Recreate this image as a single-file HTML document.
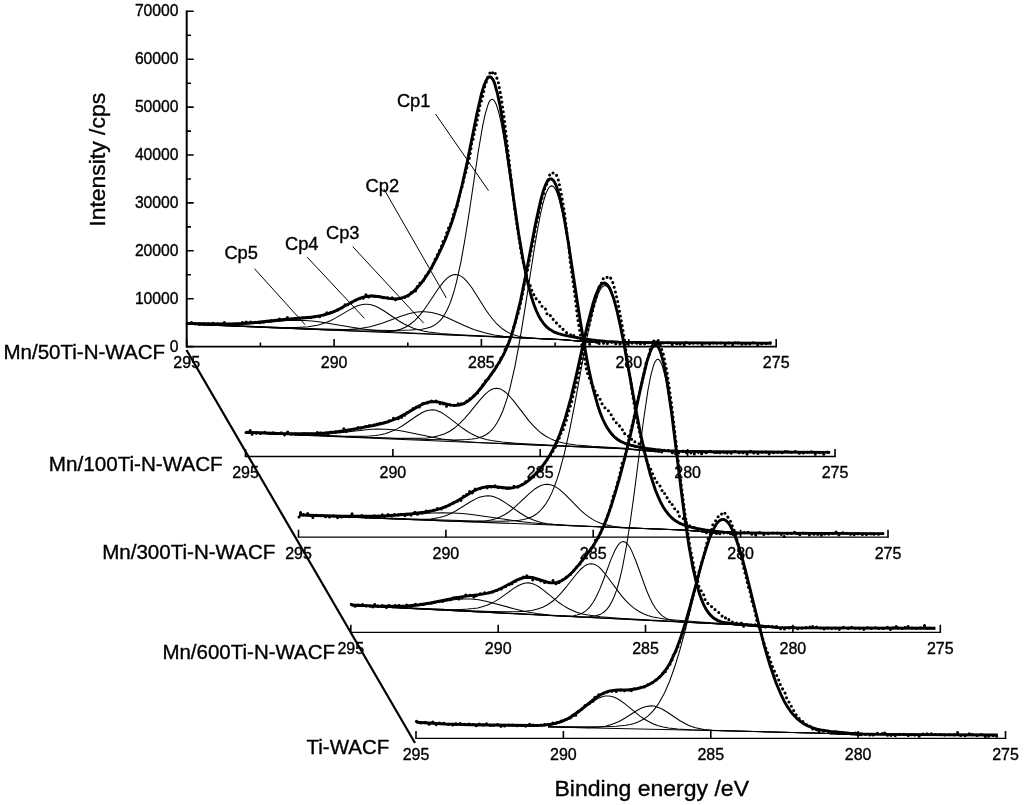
<!DOCTYPE html><html><head><meta charset="utf-8"><style>html,body{margin:0;padding:0;background:#fff;width:1024px;height:805px;overflow:hidden}svg{display:block}</style></head><body><svg width="1024" height="805" viewBox="0 0 1024 805" style="will-change:transform">
<style>
.c{fill:none;stroke:#000;stroke-width:1.05}
.e{fill:none;stroke:#000;stroke-width:2.9;stroke-linejoin:round}
.d{fill:none;stroke:#000;stroke-width:3.1;stroke-linecap:round;stroke-dasharray:0 4.9}
.ax{stroke:#000;stroke-width:1.6;fill:none}
.tk{stroke:#000;stroke-width:1.6;fill:none}
text{font-family:"Liberation Sans",sans-serif;fill:#000;stroke:#000;stroke-width:0.35}
.tl{font-size:16px;text-anchor:middle}
.yl{font-size:15.7px;text-anchor:end}
.lb{font-size:20px}
.cp{font-size:18.3px}
.ti{font-size:22px}
.ld{stroke:#000;stroke-width:1}
</style>
<rect width="1024" height="805" fill="#fff"/>
<path class="c" d="M187.2 324.0 324.2 329.0 363.2 330.1 391.4 330.4 410.2 330.1 421.9 329.2 426.4 328.3 430.2 327.2 433.4 325.8 436.4 323.9 439.4 321.3 442.2 318.1 444.9 314.0 447.4 309.3 449.7 304.1 451.9 298.0 454.2 290.7 456.4 282.3 460.7 263.1 464.9 239.7 468.9 214.5 478.2 152.0 482.7 125.7 485.2 114.1 487.7 105.6 488.9 102.6 489.9 100.9 491.2 99.6 492.2 99.3 493.2 99.6 494.2 100.5 496.2 104.3 498.4 111.2 500.7 120.7 502.9 132.4 505.4 147.4 517.0 225.3 523.0 261.0 526.5 278.2 529.7 291.5 533.2 303.1 536.7 312.1 540.5 319.4 544.5 324.9 546.7 327.3 549.0 329.2 551.5 330.8 554.2 332.3 560.2 334.4 570.5 336.7 586.0 339.3 600.0 341.1"/>
<path class="c" d="M187.2 324.2 368.9 331.6 384.7 331.8 390.2 331.4 394.9 330.7 400.4 329.3 405.4 327.3 409.9 324.5 414.4 320.9 418.9 316.3 423.4 310.7 427.9 304.3 438.4 288.5 443.9 281.4 447.2 278.1 450.2 276.0 453.2 274.8 455.9 274.5 458.4 275.0 460.9 276.1 463.7 278.1 466.4 280.8 469.2 284.2 472.2 288.3 485.9 310.0 489.4 315.0 492.9 319.5 496.9 324.0 500.9 327.7 505.2 330.8 509.4 333.1 513.5 334.7 517.7 336.0 522.5 337.0 528.2 337.8 539.2 338.6 565.7 339.9 600.0 343.0"/>
<path class="c" d="M187.2 324.2 317.7 329.5 335.7 329.9 348.7 329.6 359.9 328.6 370.2 326.7 381.4 323.5 400.9 316.2 408.7 313.8 412.9 312.8 417.2 312.1 421.2 311.8 424.9 311.8 431.9 312.6 439.2 314.6 446.9 317.6 464.7 325.7 473.7 329.4 483.7 332.6 494.2 334.9 503.4 336.3 514.5 337.3 530.2 338.3 564.2 339.8 600.0 343.0"/>
<path class="c" d="M187.2 324.0 280.2 327.4 296.7 327.5 308.2 326.8 317.4 325.2 321.7 324.1 325.9 322.6 330.4 320.7 334.9 318.4 349.9 309.6 355.4 306.8 358.4 305.6 361.4 304.7 364.4 304.2 367.2 304.2 369.9 304.5 372.7 305.2 375.7 306.3 378.7 307.7 384.2 311.0 399.4 321.2 404.2 324.0 408.9 326.3 413.4 328.2 418.2 329.8 423.2 331.1 428.7 332.1 440.7 333.6 458.4 334.8 563.5 339.7 600.0 342.9"/>
<path class="c" d="M187.2 323.8 214.9 324.5 235.7 324.4 253.7 323.4 287.7 320.6 296.2 320.3 304.2 320.4 311.9 321.0 320.4 322.0 350.2 327.0 363.4 329.0 375.7 330.4 389.2 331.6 406.9 332.8 431.7 334.0 562.0 339.6 600.0 342.9"/>
<path class="c" d="M187.2 324.2 560.7 339.6 600.0 343.0"/>
<path class="e" d="M187.2 323.4 218.4 324.0 230.7 323.9 241.9 323.5 257.7 322.3 286.7 319.3 308.4 317.5 315.4 316.7 324.4 314.9 332.7 312.2 340.2 308.6 355.9 300.0 360.2 298.1 364.2 296.9 368.7 296.1 373.4 296.0 377.9 296.5 390.4 298.6 394.2 298.9 397.7 298.8 401.7 298.0 405.4 296.7 409.2 294.7 412.7 292.2 417.2 287.9 421.7 282.6 426.4 275.9 431.4 267.7 436.7 258.0 441.7 247.6 446.2 237.3 450.2 226.8 453.2 218.0 456.2 208.2 461.9 186.0 467.2 162.1 477.2 112.3 481.4 94.0 483.7 86.4 485.9 80.8 487.9 77.8 488.9 77.0 489.9 76.8 491.2 77.3 492.4 78.8 493.7 81.1 494.9 84.3 497.4 93.3 500.2 106.6 504.9 136.3 514.5 205.3 518.7 234.2 523.0 259.5 527.2 280.5 529.5 289.8 531.7 297.8 534.0 304.7 536.2 310.5 538.7 315.9 541.2 320.2 544.0 324.0 546.7 327.0 550.0 329.6 553.7 331.8 557.7 333.4 563.0 334.9 572.7 336.9 585.5 339.1 596.2 340.5 606.5 341.5 619.5 342.1 656.5 342.6 771.5 343.2"/>
<path class="d" d="M187.2 323.8 188.7 324.3 189.9 323.9 191.7 322.4 193.2 324.5 194.4 324.1 195.9 323.2 197.7 324.3 201.9 323.9 203.4 324.4 204.9 323.2 206.4 323.7 207.9 323.5 209.4 324.5 213.7 323.2 216.7 324.0 218.2 323.8 219.7 325.3 221.2 324.8 222.7 321.4 223.9 322.0 225.4 323.7 226.9 323.5 228.4 324.1 229.9 324.1 231.4 325.9 232.9 322.7 234.4 323.5 235.9 325.7 237.2 324.4 238.9 324.1 241.7 321.8 243.2 323.5 244.7 323.4 246.2 322.0 248.9 322.9 250.4 322.0 252.2 322.7 253.4 322.8 254.9 322.6 256.4 321.9 257.9 322.9 259.4 323.0 262.4 321.1 263.7 322.3 265.2 321.2 266.7 322.2 268.2 320.3 269.7 321.9 272.7 319.5 274.2 320.3 276.9 320.5 278.7 319.1 279.9 318.9 281.4 319.9 282.9 319.2 285.9 320.1 287.4 317.6 288.9 319.3 290.4 320.1 291.9 318.4 293.2 317.9 294.7 319.2 296.2 318.7 297.7 319.2 300.7 316.6 302.2 317.9 303.7 317.5 305.2 318.5 306.7 317.7 308.2 315.9 309.4 316.2 311.2 318.1 312.4 317.8 313.9 316.3 316.9 316.9 319.7 316.8 324.2 314.7 325.7 315.6 327.2 312.0 328.7 313.5 330.2 313.1 331.7 311.2 333.2 312.2 334.7 310.8 335.9 311.5 337.7 309.9 340.4 309.7 344.9 304.6 346.4 306.9 347.9 304.2 349.2 303.0 350.7 302.9 352.2 301.8 353.7 301.9 355.2 300.4 356.7 299.7 358.2 298.3 359.7 298.8 361.2 296.8 362.7 298.0 363.9 298.4 365.4 295.3 366.9 293.9 368.4 296.6 369.9 298.5 371.4 295.0 372.9 294.8 374.4 296.6 375.9 295.4 378.7 296.3 380.2 297.4 381.7 296.8 383.2 297.7 386.2 297.2 387.7 297.9 389.2 297.6 390.7 298.6 392.2 297.7 393.4 297.8 394.9 300.2 396.7 298.8 397.9 298.7 399.4 299.0 400.9 297.8 403.9 297.7 405.4 296.9 406.9 295.0 408.2 296.0 409.9 293.6 412.7 291.2 414.2 290.5 415.7 291.0 417.2 286.7 418.7 286.2 420.2 282.4 421.4 282.6 422.9 281.6 425.9 275.7 428.7 272.4 430.4 269.4 431.9 267.9 434.7 260.1 438.9 251.8 442.2 244.5 443.7 239.1 445.2 237.9 447.9 229.1 449.7 226.3 450.9 223.5 455.4 208.3 456.9 207.5 459.9 193.5 462.7 184.7 464.2 177.4 465.7 172.8 467.2 166.0 468.7 161.0 470.2 154.0 471.7 143.4 473.2 138.9 474.7 130.2 476.2 125.5 480.4 103.4 481.9 99.5 483.4 93.7 484.9 85.1 486.4 81.7 487.9 76.7 490.7 71.5 490.9 71.4 492.2 73.3 493.7 71.1 494.4 71.9 495.4 73.8 498.2 81.7 501.2 97.4 504.2 118.1 513.0 194.9 516.2 219.9 521.7 255.7 526.2 275.5 528.2 281.9 529.2 284.1 530.7 286.4 532.2 292.0 533.7 294.6 535.0 295.3 536.5 299.6 538.0 300.4 539.5 301.9 541.0 305.0 544.0 308.7 545.5 308.9 547.0 313.8 548.5 313.2 549.7 313.9 551.2 317.7 552.7 318.6 554.2 321.0 555.7 322.0 558.7 325.8 560.2 326.5 561.7 329.2 563.0 329.3 564.5 330.2 567.5 333.8 570.5 334.5 572.0 336.7 573.5 335.2 576.2 338.2 578.0 337.7 579.2 339.3 580.7 339.7 582.2 341.1 583.7 339.6 585.2 340.3 586.7 341.4 588.2 339.3 589.7 344.5 591.2 341.2 592.5 341.3 594.2 343.0 595.5 342.4 597.0 340.8 598.5 343.3 599.7 343.6 601.5 342.4 604.5 343.5 605.7 342.3 607.2 343.6 608.7 343.5 611.7 342.0 613.2 343.2 614.7 342.6 616.2 344.4 617.7 343.6 619.2 344.2 620.5 343.7 622.0 343.7 623.5 342.7 626.5 345.3 628.0 343.2 629.2 342.9 631.0 343.3 633.7 342.8 635.5 343.6 636.7 343.2 638.2 344.9 639.7 343.5 642.7 344.4 644.2 343.3 645.7 344.8 647.2 342.8 648.7 342.7 651.5 343.4 653.0 342.1 654.5 343.5 656.0 341.9 657.5 344.8 659.0 343.4 660.5 342.8 662.0 342.6 664.7 343.3 666.5 342.5 667.7 342.6 669.2 343.3 670.7 343.0 672.2 344.5 673.5 344.6 675.2 343.6 676.7 343.8 678.0 342.3 679.5 344.1 681.2 343.6 682.5 344.0 684.0 345.1 685.5 341.3 687.0 343.7 688.5 342.5 690.0 344.0 691.5 342.3 694.2 343.7 695.7 344.1 698.7 342.7 700.0 342.9 701.7 344.4 703.2 343.4 704.5 342.0 706.2 344.3 707.5 344.0 709.0 344.4 710.5 343.2 712.0 344.3 713.5 342.5 715.0 344.1 716.5 343.1 718.0 344.2 719.2 344.5 721.0 342.9 722.2 343.5 723.7 343.6 725.2 344.7 726.7 344.2 728.2 342.4 729.7 344.0 731.2 344.4 732.5 345.5 734.2 342.0 735.5 342.9 737.0 344.8 738.7 342.2 740.0 342.3 741.5 344.1 742.7 344.5 744.5 342.9 746.0 344.1 747.5 343.8 748.7 345.0 750.2 343.6 751.7 344.5 753.2 342.7 754.7 343.4 756.2 343.5 757.7 344.7 759.2 344.0 760.5 342.9 762.0 344.1 763.5 344.3 765.2 343.4 768.0 343.4 769.5 341.9 771.0 343.7 771.5 343.8"/>
<path class="c" d="M246.0 432.7 388.2 438.2 428.5 439.4 454.8 439.9 467.5 439.5 472.2 439.1 476.2 438.4 479.8 437.5 483.0 436.3 486.0 434.7 488.8 432.8 491.8 430.0 494.8 426.3 497.5 422.1 500.2 416.8 502.8 411.0 505.2 404.1 507.8 396.1 510.0 387.9 514.8 367.1 519.5 341.9 524.0 314.8 534.8 245.7 537.8 228.2 540.2 215.3 543.2 202.3 546.2 192.8 547.8 189.5 549.0 187.5 550.5 186.2 551.8 185.9 553.0 186.3 554.2 187.5 555.5 189.5 556.8 192.2 559.5 200.6 562.2 211.9 564.8 224.4 567.8 241.5 580.8 325.6 587.2 363.0 591.0 381.2 594.5 395.6 598.0 407.5 601.8 417.9 605.8 426.3 610.0 433.0 612.2 435.7 614.5 437.9 617.0 439.9 619.8 441.7 622.8 443.2 626.2 444.6 634.5 446.9 646.5 449.1 660.0 450.7"/>
<path class="c" d="M246.0 432.7 342.0 436.5 395.5 438.2 419.2 438.3 427.0 437.9 433.5 437.0 439.5 435.6 444.8 433.7 449.8 431.2 454.8 427.8 459.5 423.7 464.5 418.6 469.2 413.1 480.0 399.8 485.5 393.9 488.5 391.4 491.5 389.6 494.2 388.6 497.0 388.3 499.8 388.8 502.5 390.1 505.5 392.2 508.5 395.0 514.0 401.4 528.8 420.6 533.2 425.7 537.5 429.9 541.5 433.3 545.5 436.0 549.8 438.4 554.0 440.3 558.5 441.8 563.5 443.1 569.2 444.1 576.0 445.0 592.0 446.3 625.0 448.2 660.0 451.7"/>
<path class="c" d="M246.0 432.7 308.0 435.1 345.0 436.2 363.2 436.3 369.8 436.0 375.5 435.5 380.5 434.7 385.0 433.7 389.2 432.3 393.5 430.6 398.0 428.4 402.5 425.8 417.0 415.7 422.0 412.7 424.8 411.3 427.5 410.4 430.2 409.9 432.8 409.8 435.2 410.1 437.8 410.9 440.5 412.0 443.2 413.6 448.2 417.1 462.8 428.3 467.5 431.5 472.0 434.1 476.5 436.2 481.2 438.0 486.2 439.5 491.5 440.6 501.8 442.1 515.8 443.2 552.5 445.3 622.5 448.5 660.0 452.0"/>
<path class="c" d="M246.0 432.9 290.2 434.5 303.2 434.7 314.5 434.6 324.2 434.2 333.8 433.5 368.5 429.5 377.0 429.1 385.0 429.2 393.2 429.8 402.0 431.1 430.2 436.8 442.0 438.9 452.5 440.3 464.0 441.4 477.8 442.4 496.5 443.3 622.0 448.7 660.0 452.1"/>
<path class="c" d="M246.0 432.9 620.8 448.6 629.5 449.2 660.0 452.1"/>
<path class="e" d="M246.0 432.3 284.2 433.6 306.2 433.8 315.8 433.5 324.8 432.9 333.5 432.1 342.5 430.9 356.5 428.6 373.2 425.5 382.0 423.5 389.0 421.5 394.2 419.5 399.5 417.1 405.5 413.9 419.8 405.5 424.0 403.6 428.0 402.3 432.0 401.6 436.0 401.8 440.0 402.4 450.5 405.1 453.8 405.4 456.8 405.4 460.2 404.8 463.8 403.6 467.0 401.8 470.5 399.2 475.5 394.4 481.0 388.0 488.5 378.2 495.8 367.8 500.0 361.0 503.5 354.6 506.8 347.7 509.8 340.0 512.5 331.9 515.2 322.4 520.5 300.9 525.2 277.7 535.8 222.3 540.8 199.8 543.5 190.2 546.0 183.8 547.2 181.5 548.5 179.9 549.8 179.0 550.8 178.8 552.0 179.2 553.5 180.6 555.0 183.0 556.5 186.5 559.5 196.2 562.8 210.6 565.2 223.9 568.2 241.8 579.2 314.2 583.8 342.0 588.5 367.9 593.0 388.3 597.8 405.5 600.0 412.2 602.5 418.5 605.0 423.8 607.8 428.7 610.8 432.9 613.8 436.3 617.2 439.2 621.0 441.5 625.5 443.5 630.8 445.2 637.8 446.9 646.5 448.5 656.2 449.8 665.8 450.7 678.8 451.3 713.2 451.8 830.2 452.4"/>
<path class="d" d="M246.0 432.5 247.5 431.9 249.0 432.0 250.5 430.3 252.0 434.3 253.2 433.8 254.8 432.4 256.5 433.4 259.2 432.3 260.8 433.8 262.2 432.6 265.0 432.3 266.8 433.5 268.0 433.1 269.5 433.7 271.0 432.6 272.5 433.4 274.0 432.4 275.5 434.2 277.0 433.6 279.8 433.9 281.2 432.6 284.2 435.6 285.8 432.1 287.2 431.9 288.8 432.2 290.2 434.5 291.8 433.9 293.2 434.8 296.0 434.0 297.5 434.1 299.0 433.6 300.5 434.6 302.0 432.7 305.0 434.1 306.5 435.4 308.0 432.9 309.2 432.6 310.8 433.1 312.2 434.5 313.8 433.4 315.2 434.8 316.8 431.6 318.2 434.5 319.8 434.2 321.2 431.8 324.0 434.1 325.8 433.0 328.5 434.9 330.0 432.7 333.0 431.4 334.5 432.6 336.0 431.6 338.8 431.3 340.2 431.8 341.8 430.0 344.8 428.1 346.2 431.5 347.8 430.2 349.2 431.3 350.8 429.5 352.0 428.7 353.8 429.5 356.8 427.3 358.0 427.4 359.5 429.8 361.0 428.1 362.5 427.9 365.2 426.4 367.0 427.5 369.8 425.4 371.2 425.7 372.8 424.7 375.8 426.0 377.2 423.9 378.8 425.6 380.2 423.3 381.5 423.7 383.0 422.5 386.0 422.4 389.0 420.8 391.8 419.7 393.5 418.3 395.0 419.0 396.5 419.0 397.8 418.9 399.2 417.9 400.8 418.9 402.2 416.0 403.8 414.5 405.2 415.8 406.8 412.3 408.0 413.2 409.5 410.8 409.8 410.6 411.0 410.9 412.5 407.9 414.0 409.7 417.0 406.1 418.5 407.9 422.8 403.4 424.2 403.4 425.8 402.7 427.2 403.1 428.8 402.9 430.2 401.2 433.2 401.0 434.8 400.3 440.5 403.9 442.0 402.2 443.5 403.9 445.0 403.3 446.5 406.2 448.0 404.5 449.5 405.3 451.0 404.2 452.2 404.5 453.8 405.6 455.2 405.1 456.8 405.8 458.2 403.7 459.8 405.6 461.2 403.7 462.8 405.6 464.2 403.1 465.5 403.7 467.0 400.5 467.2 400.4 468.5 401.1 470.0 398.7 473.0 397.0 474.5 395.2 477.5 393.0 479.0 391.1 481.8 385.8 484.8 383.0 486.2 379.1 487.8 379.9 489.2 376.9 490.5 375.1 492.2 373.8 495.0 369.1 496.5 365.6 498.0 364.4 499.5 361.9 501.0 358.1 502.5 357.2 504.0 353.6 505.5 348.2 506.8 347.1 508.2 342.4 510.0 340.1 511.2 336.3 512.8 330.0 518.8 311.1 523.0 291.7 524.5 282.2 527.5 270.2 530.5 253.3 533.5 240.3 536.2 223.6 538.0 217.3 539.2 208.7 540.8 204.3 542.2 197.2 543.8 193.1 545.2 186.4 546.8 184.1 549.8 174.6 551.2 172.5 552.8 172.9 554.0 173.9 555.5 173.6 556.8 175.7 558.5 180.4 561.5 194.9 564.5 212.9 567.2 236.0 568.8 245.7 570.2 261.6 574.8 294.4 577.5 317.5 580.5 335.1 582.0 346.6 585.0 360.3 586.5 370.1 588.0 375.0 591.0 381.9 592.2 386.2 592.5 386.7 593.8 387.1 595.5 392.8 599.8 398.4 601.2 402.7 604.0 406.2 605.8 409.2 607.2 409.6 610.0 412.3 613.0 418.8 614.5 419.9 616.0 422.7 617.5 422.8 619.0 425.4 621.8 428.1 623.5 433.1 624.8 433.7 626.2 433.7 627.8 435.2 629.2 437.4 630.8 437.5 632.2 440.5 633.8 440.2 635.0 441.9 636.5 442.4 638.0 443.8 639.5 443.9 641.0 444.5 642.5 445.8 647.0 448.7 648.5 450.5 651.2 449.6 652.8 450.8 654.2 449.8 655.8 452.1 657.2 451.5 658.8 449.8 660.2 452.1 661.5 452.3 663.2 449.1 664.8 451.0 666.0 451.4 667.5 450.1 669.0 451.0 670.5 451.2 672.0 452.7 673.5 452.6 675.0 454.8 676.5 452.0 678.0 453.4 679.2 452.5 680.8 452.6 682.2 451.3 683.8 450.5 686.8 453.2 688.2 454.0 689.8 453.0 691.2 452.8 692.5 451.7 694.2 453.9 695.5 453.8 697.0 452.0 698.5 452.4 700.0 451.5 701.5 453.9 703.0 452.8 704.2 452.4 707.2 452.9 710.2 451.3 713.2 450.7 716.2 454.6 717.8 450.9 719.2 452.7 720.5 452.9 722.0 451.6 723.5 452.7 725.0 451.5 726.5 453.7 728.0 451.9 731.0 453.2 734.0 450.8 736.8 453.2 738.2 452.5 739.8 452.8 741.2 451.5 742.8 452.7 744.2 453.3 745.8 452.7 747.2 454.3 748.8 452.3 751.5 451.0 753.0 453.6 754.5 452.5 756.0 453.6 757.5 453.1 759.0 454.2 760.5 453.8 762.0 452.3 764.8 453.6 766.2 451.5 768.0 454.0 770.8 453.6 772.2 452.4 773.8 452.8 775.2 451.6 776.8 452.6 778.0 452.1 779.5 452.7 781.0 452.1 784.0 453.8 785.5 451.3 787.0 453.5 788.5 450.6 789.8 450.5 791.5 452.5 794.2 453.0 795.8 451.1 797.2 452.5 798.8 452.8 800.2 453.9 801.8 452.6 803.2 453.1 804.8 451.7 806.0 452.4 807.5 452.2 809.0 453.3 810.5 451.7 812.0 451.8 815.0 454.4 816.5 453.0 818.0 452.9 819.2 452.4 820.8 453.6 822.2 453.2 823.8 454.3 826.8 451.7 828.2 452.1 830.2 451.6"/>
<path class="c" d="M299.0 515.0 436.0 519.8 476.2 520.9 501.5 521.2 514.5 520.7 519.2 520.3 523.5 519.6 527.2 518.6 530.8 517.3 533.8 515.8 536.8 513.8 540.0 511.0 543.2 507.4 546.2 503.2 549.0 498.5 551.8 492.9 554.2 487.0 557.0 479.4 559.5 471.5 564.5 452.8 569.8 429.3 574.8 403.8 586.2 341.5 589.5 325.5 592.2 313.4 595.5 301.5 598.8 292.6 600.5 289.2 602.0 287.2 603.5 286.0 605.0 285.6 606.2 285.9 607.8 287.1 609.2 289.1 610.8 291.9 613.8 299.8 616.8 310.4 619.5 322.1 622.8 337.8 637.0 415.5 643.8 448.4 647.8 465.0 651.5 478.3 655.5 490.2 659.5 499.8 663.8 507.8 668.2 514.1 670.8 516.8 673.2 519.1 676.0 521.1 678.8 522.8 682.0 524.3 685.8 525.7 694.5 528.1 706.5 530.2 720.0 531.8"/>
<path class="c" d="M299.0 515.2 459.5 521.4 475.0 521.6 485.5 520.9 490.8 520.0 495.8 518.7 500.5 516.8 505.0 514.5 509.5 511.5 514.0 507.9 529.5 493.4 535.2 488.7 538.5 486.7 541.5 485.3 544.5 484.6 547.5 484.4 550.5 484.8 553.5 485.8 556.8 487.6 560.0 489.9 565.8 495.1 580.5 510.1 584.8 513.9 588.8 516.9 592.5 519.4 596.2 521.4 600.2 523.1 604.5 524.5 613.0 526.3 623.8 527.5 638.5 528.3 683.8 530.1 720.0 533.3"/>
<path class="c" d="M299.0 515.2 407.0 519.3 420.8 519.5 430.8 519.0 439.5 517.5 443.5 516.4 447.5 515.0 451.8 513.1 456.0 510.8 470.5 501.7 476.2 498.6 479.5 497.2 482.5 496.4 485.5 495.9 488.2 495.8 491.0 496.1 494.0 496.8 497.0 497.9 500.2 499.5 506.0 503.1 520.5 513.3 525.0 516.0 529.2 518.2 533.5 520.1 537.8 521.5 542.2 522.7 547.2 523.7 557.0 524.8 570.8 525.7 682.8 530.1 720.0 533.3"/>
<path class="c" d="M299.0 515.2 341.5 516.6 368.5 516.8 390.5 515.9 432.2 513.0 443.0 512.7 453.2 512.9 462.2 513.5 471.8 514.5 517.8 521.2 531.2 522.8 545.5 524.0 582.0 526.1 682.2 530.1 720.0 533.3"/>
<path class="c" d="M299.0 515.2 680.8 530.0 689.5 530.6 720.0 533.3"/>
<path class="e" d="M299.0 515.0 342.8 516.3 370.5 516.3 384.0 515.9 397.5 515.0 412.0 513.7 423.8 512.2 430.5 511.1 436.2 509.8 441.8 508.1 446.8 506.2 455.5 501.9 473.2 491.3 477.5 489.2 481.5 487.8 486.0 486.8 490.8 486.4 495.2 486.7 506.8 488.0 510.2 488.0 513.2 487.7 517.0 486.9 520.5 485.6 524.0 483.7 527.8 481.1 532.2 477.3 537.0 472.5 541.8 466.9 546.0 461.2 549.8 455.3 553.2 449.0 556.5 442.2 559.8 434.4 565.2 418.4 571.0 397.6 576.2 375.6 587.2 325.8 592.8 304.3 595.8 295.0 598.8 288.2 600.2 285.8 601.5 284.3 603.0 283.3 604.2 283.0 605.8 283.5 607.2 284.7 608.8 286.7 610.5 290.0 613.8 298.8 617.2 311.7 620.2 325.1 623.5 341.4 635.2 406.1 640.2 432.0 645.2 454.9 650.2 474.1 655.2 489.5 657.8 495.9 660.5 501.9 663.2 507.0 666.0 511.2 669.0 515.0 672.0 518.0 675.5 520.8 679.5 523.2 684.2 525.2 689.8 526.9 696.8 528.5 705.0 530.0 714.5 531.2 724.0 532.1 737.2 532.7 765.0 533.1 883.2 533.6"/>
<path class="d" d="M299.0 517.0 300.5 512.5 302.0 515.5 303.5 514.6 306.2 515.0 307.8 513.4 309.2 515.0 310.8 514.5 312.2 518.7 313.8 515.7 315.2 515.2 316.8 515.3 319.5 514.7 322.5 516.2 324.0 515.6 325.5 516.8 327.0 515.7 328.5 516.0 330.0 517.5 333.0 515.6 335.8 516.6 337.2 518.1 338.8 516.0 340.2 516.0 341.8 517.3 343.2 515.4 344.8 516.1 346.2 517.2 349.0 516.5 350.5 517.1 352.0 513.8 353.5 517.4 355.0 515.5 356.5 514.8 358.0 516.8 358.5 516.9 359.5 517.1 362.2 515.4 363.8 516.4 365.2 516.4 366.8 517.8 369.8 516.5 371.2 517.4 372.8 516.1 374.0 515.4 375.8 516.8 377.2 516.7 380.0 515.3 381.5 516.2 383.0 513.4 384.5 516.5 386.0 516.2 387.5 514.1 389.0 515.6 390.5 514.6 391.8 516.0 393.5 513.4 396.2 515.8 397.8 516.1 399.2 512.7 400.8 514.2 402.0 514.8 403.8 514.0 405.0 515.8 406.5 513.2 408.0 514.3 409.5 512.9 411.0 515.1 412.5 513.6 414.0 513.1 415.5 511.7 417.0 514.7 418.5 513.7 421.5 513.6 424.2 511.5 425.8 511.1 427.2 510.9 428.8 512.7 430.2 509.7 431.8 510.2 436.0 510.4 437.5 508.3 439.0 507.3 440.5 508.5 442.0 509.3 446.5 506.1 447.8 506.0 449.2 504.9 450.8 505.2 452.2 502.9 453.8 503.0 455.2 501.9 456.8 501.7 458.2 500.6 459.8 501.9 461.2 500.0 462.5 499.2 464.0 494.9 464.2 494.7 465.5 495.4 467.0 494.3 468.5 494.5 470.0 490.8 471.5 493.4 473.0 492.4 474.5 489.3 477.5 488.5 480.2 488.8 481.8 489.7 483.2 487.1 484.8 487.8 486.2 487.0 487.8 488.3 489.2 487.3 490.5 487.8 492.2 485.5 493.5 486.3 495.0 485.8 496.5 488.3 499.5 486.9 501.0 487.0 502.5 488.0 504.0 487.0 505.2 487.0 506.8 488.4 508.2 490.4 509.8 487.9 514.2 486.3 515.8 487.8 517.0 487.7 518.8 486.3 520.2 486.0 523.0 484.4 524.5 481.9 526.0 481.9 527.5 481.4 529.0 479.4 530.5 478.4 532.0 476.7 533.2 476.0 534.8 475.6 536.5 472.6 537.8 471.5 539.2 470.7 540.8 468.8 542.2 467.9 543.8 462.4 545.0 463.2 545.2 463.1 546.8 459.7 550.2 455.7 552.5 452.0 554.0 448.4 555.5 447.0 557.0 442.2 559.8 437.1 561.2 432.4 562.8 431.1 563.0 430.5 564.2 426.1 565.8 422.9 567.2 416.2 571.8 401.5 573.2 394.6 577.5 379.2 579.0 370.6 580.5 365.5 582.0 357.0 586.5 335.8 595.2 300.5 599.5 285.7 599.8 284.9 601.2 283.6 602.8 278.7 604.0 278.9 605.5 277.0 607.0 277.4 608.8 276.3 610.0 276.7 613.0 283.0 615.2 291.0 617.8 301.9 623.2 331.4 629.0 372.6 630.8 381.0 632.2 392.5 636.5 417.8 642.0 443.2 644.0 451.1 645.5 455.0 647.0 461.3 648.2 464.8 649.8 466.8 652.8 474.3 654.2 476.7 655.8 481.6 658.8 483.7 661.5 488.8 663.0 493.4 663.2 493.6 664.5 493.3 664.8 493.7 667.5 498.4 669.0 500.2 670.5 504.6 672.0 504.2 673.5 507.5 674.8 508.8 676.2 511.3 677.8 511.6 679.2 516.3 680.8 516.3 682.2 518.2 683.8 518.8 688.0 524.6 691.0 527.0 694.0 527.5 695.5 529.1 697.0 529.5 698.5 529.4 701.2 531.5 704.2 530.7 707.2 533.5 708.8 531.7 711.8 532.1 713.2 533.5 714.8 530.9 716.2 533.2 717.5 534.0 719.0 532.3 720.5 534.5 723.5 532.7 725.0 533.5 726.5 531.9 728.0 533.0 729.5 535.2 730.8 533.0 731.0 532.9 732.2 535.3 733.8 533.7 735.5 534.6 736.8 533.8 738.2 531.5 739.8 533.2 741.2 533.9 742.8 532.6 744.0 532.4 745.8 534.0 748.5 532.1 750.0 533.1 751.5 534.6 753.0 533.3 754.5 534.7 756.0 535.2 759.0 532.6 760.5 532.6 763.2 534.6 764.8 534.1 766.2 534.3 767.8 533.4 769.2 534.1 770.8 533.3 772.2 533.4 773.8 532.5 775.0 532.3 776.5 533.3 778.0 532.7 779.5 532.8 781.0 534.5 782.5 533.8 784.0 536.7 786.8 533.3 788.5 534.6 789.8 534.2 791.2 533.2 792.8 534.9 795.8 530.8 797.2 534.6 798.8 533.3 800.2 535.2 801.8 533.1 803.0 532.7 804.5 535.2 806.0 532.9 809.0 535.3 810.5 533.9 811.8 533.8 813.5 534.0 815.0 534.6 816.5 533.2 817.8 534.4 819.2 534.4 820.8 536.1 822.2 533.5 823.8 532.9 825.2 534.6 826.8 533.5 828.2 534.1 829.8 534.1 831.0 534.9 832.5 533.3 834.0 533.7 835.5 531.4 837.0 532.9 838.5 535.4 840.0 533.2 841.5 533.1 842.8 532.7 844.5 534.4 845.8 534.1 847.2 532.7 848.8 534.5 850.2 534.1 851.8 534.6 853.2 533.3 854.8 535.5 856.2 534.2 859.2 533.4 860.5 533.6 862.0 534.7 863.5 533.6 865.0 534.9 866.5 534.4 868.0 535.2 870.8 533.9 872.2 532.1 874.0 534.2 875.2 534.6 876.8 534.0 878.2 534.4 879.8 533.4 881.2 533.5 882.5 533.0 883.2 533.8"/>
<path class="c" d="M351.3 605.5 580.8 616.9 589.0 616.8 595.0 616.1 599.8 614.6 602.0 613.4 604.0 612.0 606.8 609.4 609.3 606.1 611.8 601.8 614.0 597.0 616.3 590.9 618.3 584.5 620.5 576.0 622.5 567.2 626.5 546.0 630.5 520.2 634.3 492.6 643.3 421.7 648.0 389.8 650.8 375.5 653.3 366.2 654.5 362.9 655.8 360.7 657.0 359.5 658.0 359.3 659.0 359.7 660.0 360.9 661.0 362.7 662.3 365.9 664.5 374.0 666.8 385.0 669.0 398.5 671.5 415.7 683.3 508.3 686.3 529.9 689.3 549.2 692.5 567.1 696.0 582.8 699.5 595.1 703.3 604.9 705.0 608.4 707.0 611.8 709.0 614.5 711.0 616.7 713.3 618.7 715.5 620.2 718.0 621.4 721.0 622.5 725.8 623.6 732.0 624.4 768.0 627.3 779.8 628.0"/>
<path class="c" d="M351.3 605.5 557.0 615.8 569.3 616.0 573.5 615.7 577.0 615.1 581.8 613.4 585.8 610.9 589.5 607.3 593.0 602.5 596.3 596.7 599.8 589.1 603.3 580.3 611.0 559.4 615.0 550.2 617.3 546.2 619.5 543.4 621.5 541.9 623.5 541.5 625.5 542.3 627.5 544.0 629.8 547.2 632.0 551.6 636.0 561.3 646.5 590.2 649.5 597.3 652.5 603.4 655.5 608.3 658.8 612.5 662.0 615.6 665.5 617.9 668.8 619.4 672.3 620.5 676.5 621.3 681.8 621.9 742.3 625.1 767.8 627.2 779.8 628.0"/>
<path class="c" d="M351.3 605.3 440.6 609.4 491.8 611.4 506.6 611.7 517.0 611.7 525.0 611.3 531.8 610.5 537.5 609.1 542.8 607.2 547.5 604.8 552.3 601.5 556.8 597.6 561.5 592.6 566.0 587.2 576.0 574.5 581.0 569.0 583.8 566.6 586.5 564.8 589.0 563.9 591.5 563.7 594.0 564.2 596.5 565.4 599.3 567.4 602.0 570.1 607.0 576.2 621.0 595.1 625.5 600.4 629.8 604.6 634.0 608.2 638.3 611.0 642.8 613.4 647.8 615.4 653.0 616.9 658.8 618.1 665.8 619.2 674.8 620.1 700.3 622.1 743.0 624.7 767.3 626.8 779.8 627.6"/>
<path class="c" d="M351.3 605.2 409.8 607.9 444.3 609.3 461.3 609.4 467.6 609.1 473.1 608.6 477.8 607.9 482.1 606.8 486.3 605.5 490.3 603.8 494.6 601.6 499.1 598.9 513.0 588.9 518.0 585.7 520.8 584.4 523.5 583.4 526.0 583.0 528.5 582.9 531.0 583.2 533.5 584.0 536.0 585.1 538.8 586.7 543.8 590.3 558.5 602.3 563.3 605.6 567.8 608.3 572.5 610.5 577.3 612.4 582.5 613.9 588.3 615.1 600.5 616.7 619.3 618.2 663.3 620.8 741.8 624.9 767.8 627.1 779.8 627.9"/>
<path class="c" d="M351.3 605.4 386.3 606.9 397.6 607.0 407.3 606.7 415.8 606.0 424.3 605.0 448.3 600.7 455.8 599.6 463.6 599.0 471.1 599.0 478.8 599.8 487.1 601.4 513.8 608.7 525.3 611.4 536.5 613.4 549.3 614.9 562.5 615.9 581.3 617.0 741.3 625.1 767.8 627.2 779.8 628.0"/>
<path class="c" d="M351.3 605.5 740.3 625.0 768.0 627.3 779.8 628.0"/>
<path class="e" d="M351.3 605.0 377.1 606.1 393.6 606.3 407.1 605.9 419.3 604.7 430.6 602.9 456.6 597.6 464.6 596.4 480.8 594.4 489.1 592.8 493.8 591.4 498.6 589.5 503.8 587.0 516.8 580.1 520.8 578.5 524.3 577.5 528.3 577.2 532.3 577.5 536.3 578.6 546.8 582.0 550.3 582.7 553.3 582.9 557.0 582.4 560.5 581.2 564.3 579.1 568.0 576.3 572.8 571.7 578.5 565.1 586.5 555.0 592.8 546.3 596.8 539.9 600.3 533.4 603.5 526.4 606.8 518.4 610.8 507.0 615.0 493.5 619.8 477.0 624.5 459.2 630.8 433.4 642.5 379.6 647.0 361.4 649.3 354.2 651.5 348.8 653.5 345.9 654.5 345.2 655.5 345.0 657.0 345.6 658.3 347.1 659.5 349.5 661.0 353.5 663.8 364.0 666.8 379.9 671.8 414.3 681.3 491.1 685.0 519.6 689.0 546.2 693.0 568.2 697.0 585.4 699.0 592.4 701.3 598.9 703.5 604.3 705.8 608.7 708.3 612.5 711.0 615.7 714.0 618.3 717.5 620.3 721.3 621.8 726.0 622.8 733.8 623.8 777.0 627.4 797.8 627.9 935.5 628.2"/>
<path class="d" d="M351.3 604.4 352.8 605.0 354.3 606.8 355.8 605.8 357.3 603.8 358.6 605.2 360.1 604.8 361.6 605.6 363.1 604.0 364.6 605.8 366.1 605.9 367.6 607.3 369.1 606.1 370.6 606.2 371.8 604.6 373.3 607.9 374.8 604.3 376.3 607.0 377.8 605.8 379.3 605.3 382.3 605.6 383.8 606.6 385.3 606.3 386.6 607.6 388.1 604.7 388.3 604.7 389.6 606.2 391.1 605.5 392.6 607.1 394.1 604.2 395.6 606.0 396.8 606.4 398.6 604.9 400.1 607.2 401.3 606.4 402.8 607.1 404.3 607.0 406.1 605.0 407.6 605.2 410.3 606.4 411.6 606.4 413.3 604.7 416.3 604.3 420.6 604.4 422.1 606.4 423.6 603.6 426.6 604.0 428.1 602.4 432.3 603.3 433.8 601.0 435.3 603.3 436.8 601.3 439.8 601.8 441.3 601.3 442.6 601.4 444.3 600.2 445.6 599.7 447.1 599.7 448.6 598.1 450.1 600.0 451.6 597.7 452.8 597.1 453.1 597.1 454.6 599.9 456.1 597.5 457.3 596.4 458.8 598.9 459.1 598.8 460.3 596.8 461.8 597.8 463.3 595.8 464.8 596.1 466.3 594.5 467.6 594.1 472.1 596.2 473.6 597.6 475.1 594.3 476.6 595.9 478.1 594.2 479.6 594.4 481.1 592.9 482.6 592.7 484.1 593.1 485.6 592.5 486.8 593.2 488.3 592.3 489.8 593.8 491.6 592.2 492.8 591.9 494.3 592.3 497.3 590.0 500.1 588.7 501.8 589.1 504.6 587.0 506.1 586.6 507.6 584.5 509.1 584.7 510.6 582.1 512.0 583.8 513.5 581.8 516.3 580.9 519.3 578.8 520.8 579.7 523.8 576.8 525.3 577.7 526.5 575.8 526.8 575.7 528.3 578.7 529.5 577.2 530.0 577.1 531.0 577.4 532.8 579.9 534.0 580.1 535.5 578.4 539.8 581.4 541.5 580.3 542.8 580.9 544.5 582.5 545.8 582.1 547.3 582.9 548.8 583.1 550.3 581.6 551.8 581.9 553.3 580.3 554.8 582.6 556.0 583.8 557.5 581.3 559.3 582.9 560.5 582.2 562.0 580.4 565.0 578.7 566.5 576.7 571.0 574.1 572.3 573.0 573.8 570.0 575.3 569.7 576.8 566.5 579.8 564.0 582.5 560.0 584.3 558.1 587.0 553.6 588.5 552.0 590.0 551.1 591.5 547.9 593.0 547.6 594.5 543.5 596.0 538.0 597.5 537.9 598.8 537.4 603.3 525.3 604.8 523.8 605.0 523.1 610.8 506.7 613.5 495.2 615.3 491.0 619.8 474.9 622.5 461.1 624.0 459.8 629.8 435.6 631.3 428.0 632.8 423.1 638.5 396.4 641.5 384.9 646.0 363.6 649.0 355.4 650.5 347.8 652.0 346.8 653.5 341.1 656.3 341.3 657.8 340.2 658.8 341.0 659.5 342.2 663.8 355.8 665.3 364.5 666.8 370.7 671.3 402.2 677.0 451.3 684.5 510.5 690.3 549.2 691.8 555.5 694.8 572.0 696.3 577.5 697.8 581.5 699.0 586.8 700.5 589.1 702.0 592.8 703.5 594.3 705.0 599.4 706.5 600.8 708.0 603.7 712.3 607.2 713.8 609.5 715.3 609.5 717.0 610.8 721.3 615.1 722.8 617.1 724.3 616.3 725.8 618.4 727.0 617.6 727.3 617.7 728.5 619.5 730.0 620.0 731.5 622.3 734.5 621.4 736.0 622.9 737.5 623.1 739.0 622.9 740.5 623.2 741.8 622.9 743.3 626.6 744.8 624.6 746.3 625.5 747.8 623.6 749.3 623.9 750.8 625.0 752.3 625.2 753.5 626.1 755.3 624.8 758.0 627.4 759.5 625.2 761.0 627.1 762.5 625.4 764.0 626.8 765.5 627.0 767.0 628.3 768.5 626.2 771.3 628.1 772.8 626.1 774.3 627.2 775.8 626.5 777.0 626.7 778.8 628.2 780.3 628.4 781.8 630.2 783.3 629.1 784.8 628.9 786.3 627.6 787.5 627.6 789.0 628.0 790.5 625.6 792.0 629.5 793.5 627.3 794.8 626.9 796.3 627.4 798.0 628.9 799.3 629.2 800.8 627.7 802.3 628.4 803.8 627.9 805.3 627.0 806.8 628.2 808.0 628.0 809.8 626.6 811.3 628.9 812.8 626.6 814.0 628.1 815.8 627.0 818.5 627.3 820.0 628.7 821.5 626.8 824.5 629.4 826.0 627.4 828.8 628.7 830.3 627.5 831.8 628.5 833.3 627.4 834.8 628.7 837.5 627.2 839.3 629.4 840.8 627.9 843.5 627.2 848.0 628.3 849.5 629.1 851.0 626.8 854.0 629.2 855.5 628.3 856.8 628.5 858.3 629.6 859.8 628.5 861.3 628.6 862.8 628.1 864.3 629.8 865.8 629.1 867.3 627.5 868.5 628.5 870.0 627.1 871.8 629.1 874.5 628.0 876.0 627.7 877.5 626.4 879.0 628.8 880.5 628.0 881.8 627.8 883.5 628.7 884.8 627.5 887.8 627.4 889.3 626.8 890.8 630.5 892.3 627.9 893.8 627.8 895.0 628.9 895.3 628.8 896.8 625.2 898.3 628.1 899.5 628.1 901.0 627.2 902.5 628.6 904.0 626.1 905.5 628.1 906.8 628.9 907.0 628.9 908.5 625.9 911.5 627.9 912.8 628.0 914.3 627.4 916.0 628.4 917.3 628.3 918.8 626.7 920.3 627.9 923.0 626.0 924.5 625.6 926.0 628.8 926.3 628.9 927.5 627.9 929.0 629.9 930.5 626.6 933.5 628.3 935.0 627.9 935.5 628.1"/>
<path class="c" d="M548.0 726.4 582.2 726.7 603.2 726.7 616.2 726.2 625.8 725.3 630.2 724.4 634.2 723.4 638.0 722.0 641.5 720.3 644.8 718.4 647.8 716.1 650.8 713.4 653.5 710.4 656.5 706.6 659.2 702.5 664.5 692.9 669.8 680.7 675.0 666.0 679.5 651.3 684.2 634.1 702.2 562.8 706.0 549.7 709.5 539.1 713.0 530.5 714.8 527.1 716.5 524.2 718.2 522.1 719.8 520.7 721.5 519.8 723.0 519.6 724.5 520.0 726.2 521.0 728.0 522.7 729.8 525.1 733.2 531.8 737.0 541.5 740.5 552.5 744.2 566.0 761.0 633.4 765.2 649.3 769.2 663.0 774.0 677.4 778.5 689.1 783.0 698.9 787.8 707.2 793.0 714.4 795.8 717.4 798.5 720.0 801.5 722.3 804.5 724.2 807.8 725.9 811.2 727.4 818.8 729.5 829.2 731.3 843.8 732.8 860.0 733.9"/>
<path class="c" d="M548.0 727.1 588.5 727.7 598.0 727.2 605.5 726.2 612.2 724.3 619.0 721.5 624.8 718.2 636.5 710.7 641.5 708.1 646.5 706.4 651.2 705.9 653.8 706.1 656.5 706.7 662.0 709.0 667.0 712.0 680.0 720.7 687.8 724.9 691.5 726.4 695.5 727.7 704.0 729.4 712.0 730.2 723.2 730.7 821.8 733.3 860.0 735.0"/>
<path class="c" d="M548.0 725.4 553.2 724.6 558.0 723.5 562.5 722.0 566.8 720.1 571.2 717.7 575.8 714.7 590.8 703.2 596.2 699.5 599.2 697.9 602.2 696.8 605.2 696.1 608.0 696.0 610.8 696.3 613.5 697.0 616.5 698.3 619.5 700.0 625.0 703.9 640.0 716.1 644.5 719.2 649.0 721.8 653.5 724.0 658.2 725.7 663.2 727.1 668.5 728.0 677.8 729.1 690.8 729.8 821.5 733.3 860.0 735.0"/>
<path class="c" d="M548.0 727.1 720.0 730.7 821.8 733.3 860.0 735.0"/>
<path class="e" d="M416.5 722.2 445.0 724.0 470.0 724.7 532.2 725.5 543.0 725.2 551.0 724.3 556.2 723.1 561.0 721.7 565.8 719.7 570.2 717.3 578.2 711.8 595.8 697.7 600.5 694.7 604.8 692.6 609.0 691.1 613.2 690.4 617.5 690.0 629.5 689.8 637.2 688.7 641.5 687.5 645.8 686.0 649.8 684.1 653.5 681.9 656.8 679.5 659.8 676.9 662.5 674.0 665.2 670.5 667.8 666.8 670.2 662.6 675.2 652.2 680.2 639.1 685.2 623.5 690.2 605.9 702.2 561.3 705.8 549.5 709.0 539.8 712.8 530.6 716.2 524.2 718.0 522.0 719.8 520.5 721.5 519.6 723.0 519.4 724.8 519.9 726.5 521.0 728.2 522.8 730.2 525.7 732.2 529.5 734.2 534.0 738.2 545.1 741.8 556.7 745.5 570.6 758.8 624.4 764.5 646.5 770.2 666.1 776.0 682.7 781.5 695.7 784.2 701.2 787.2 706.4 790.2 710.8 793.2 714.6 796.5 718.1 799.8 720.9 803.5 723.6 807.8 725.9 812.2 727.7 817.0 729.1 823.0 730.3 830.2 731.4 849.2 733.2 863.0 734.0 879.5 734.4 997.8 735.0"/>
<path class="d" d="M416.5 721.4 418.0 721.0 419.5 722.2 422.2 723.7 425.2 722.3 426.8 722.1 428.2 723.7 429.8 724.7 432.8 722.0 434.2 722.5 435.8 725.0 438.5 722.0 440.0 723.5 441.5 722.7 444.5 723.5 446.0 723.4 447.5 724.6 450.5 723.7 452.0 724.7 453.2 725.1 454.8 722.8 456.2 724.1 457.8 723.4 459.2 724.3 460.8 723.2 462.2 724.5 465.0 724.3 466.5 723.7 468.2 724.2 471.0 723.4 472.5 725.0 474.0 723.7 475.5 726.0 477.0 725.4 478.5 723.0 480.0 725.0 481.2 723.9 482.8 724.9 484.2 725.0 485.8 723.0 487.2 724.7 488.8 724.7 490.2 725.9 491.8 723.9 493.2 725.6 494.8 724.0 496.0 724.7 497.5 724.3 499.0 726.5 500.5 725.7 502.0 727.5 503.5 725.8 506.2 726.0 508.0 724.6 509.2 725.1 510.8 726.5 512.2 724.9 513.8 725.5 515.2 725.3 516.8 725.9 518.2 725.0 521.2 725.6 522.8 725.5 524.0 724.7 525.5 726.3 527.2 724.2 530.0 724.2 531.5 726.4 533.0 725.1 534.5 724.5 536.0 724.4 537.5 725.7 538.8 724.4 540.2 724.0 541.8 725.8 543.2 724.0 544.8 724.7 546.0 724.9 547.8 724.3 549.0 724.5 550.5 725.5 552.2 723.4 555.0 721.6 556.5 722.8 558.0 722.3 559.5 722.4 561.0 721.2 564.0 719.8 566.8 719.3 568.5 718.0 569.8 717.7 571.2 718.6 574.2 713.3 575.8 715.4 578.5 710.8 578.8 710.7 580.0 711.2 580.2 711.1 583.0 707.5 586.0 704.6 589.0 704.1 590.5 701.5 592.0 701.1 593.2 701.4 594.8 697.5 595.0 697.2 596.5 697.4 599.2 694.4 600.8 693.5 602.2 693.7 603.8 693.4 605.2 691.9 608.0 692.1 609.5 691.3 611.0 691.5 613.2 690.8 614.0 690.8 615.5 692.0 617.0 690.7 618.2 690.2 620.0 690.6 621.5 689.1 622.8 689.6 624.2 690.7 625.8 690.6 627.2 691.4 630.2 688.3 631.8 691.5 633.2 690.4 634.8 688.2 636.2 690.1 639.0 686.5 640.5 687.4 642.0 686.8 643.5 688.4 645.0 685.5 646.5 685.4 647.8 684.8 651.0 682.6 653.8 682.7 655.2 681.3 656.8 678.6 658.2 677.1 659.8 677.0 661.2 674.7 662.8 673.1 664.0 670.7 664.2 670.6 665.5 672.0 665.8 671.9 668.5 665.0 670.0 664.3 671.5 662.0 673.0 655.4 674.5 654.0 677.5 648.0 681.8 635.6 683.2 632.9 684.8 628.4 686.2 620.6 687.8 615.0 689.2 613.0 690.8 603.9 696.5 583.6 699.5 569.9 701.0 565.5 702.5 559.7 704.0 555.7 707.0 542.2 708.2 538.4 709.8 536.2 712.8 524.8 715.8 520.5 717.2 519.1 718.8 515.0 720.2 515.0 721.5 514.2 723.2 512.0 724.5 512.5 726.0 515.2 729.0 518.3 730.2 520.3 732.0 525.2 733.5 528.2 736.2 536.6 739.2 548.6 740.8 557.4 742.2 560.7 743.8 568.5 746.8 579.8 748.0 586.2 749.8 590.4 752.5 604.2 754.0 606.9 754.2 607.9 757.0 621.2 760.0 629.3 764.5 645.0 768.8 655.5 771.8 665.3 773.2 668.2 774.8 672.1 777.8 677.4 780.8 686.0 785.0 692.9 786.5 697.6 795.2 713.4 798.2 717.9 799.8 719.1 801.2 719.6 804.0 723.0 805.8 723.8 808.5 727.1 810.0 726.2 811.5 725.9 813.0 729.6 814.5 729.0 816.0 730.2 817.5 728.8 819.0 732.1 822.0 730.9 823.2 731.0 825.0 731.7 827.8 731.7 829.2 731.1 830.8 733.6 832.2 732.5 835.0 732.9 836.5 730.7 838.0 733.4 839.5 732.8 842.5 733.4 844.0 732.6 845.5 734.4 847.0 733.0 849.8 733.0 852.8 734.7 855.8 732.7 857.2 735.3 858.8 733.3 860.2 735.5 861.8 734.3 863.0 733.8 864.5 733.8 866.0 734.9 867.5 735.4 869.0 734.4 872.0 736.7 873.5 734.4 875.0 733.6 877.8 733.4 879.5 734.1 880.8 734.0 882.2 733.5 883.8 735.3 885.2 732.2 886.8 733.6 888.2 736.8 889.8 735.8 891.2 735.3 892.5 735.3 894.0 736.5 895.5 735.4 897.0 734.9 898.5 733.6 900.0 734.8 901.5 734.1 904.2 734.2 905.8 734.8 907.2 734.6 908.8 735.7 910.2 733.6 911.8 734.7 913.2 736.8 914.8 735.0 916.2 736.1 919.2 736.2 920.5 735.7 922.0 733.7 923.8 734.7 925.0 734.6 926.5 733.4 928.0 734.5 929.5 733.7 931.0 733.4 932.5 735.2 936.8 734.1 942.8 735.0 944.2 734.6 945.8 735.4 947.0 735.5 948.5 735.4 950.0 734.4 951.5 734.4 953.0 735.4 954.5 734.9 956.0 735.0 957.5 732.6 958.8 732.4 960.5 735.4 962.0 735.5 963.2 736.4 966.2 735.3 967.8 735.1 969.2 733.6 970.8 735.9 972.2 734.5 973.8 735.6 976.5 735.4 978.0 735.9 979.5 734.7 981.0 734.7 982.5 734.2 984.0 734.7 985.5 736.7 987.0 734.8 988.5 736.3 990.0 735.9 992.8 735.9 994.2 734.2 997.2 736.7 997.8 735.9"/>
<path class="ax" style="stroke-width:1.9" d="M185.9 346.6H777.0"/>
<path class="tk" d="M186.7 346.6V339.1M260.4 346.6V342.6M334.1 346.6V339.1M407.8 346.6V342.6M481.4 346.6V339.1M555.1 346.6V342.6M628.8 346.6V339.1M702.5 346.6V342.6M776.2 346.6V339.1"/>
<text class="tl" x="186.7" y="368.4">295</text>
<text class="tl" x="334.1" y="368.4">290</text>
<text class="tl" x="481.4" y="368.4">285</text>
<text class="tl" x="628.8" y="368.4">280</text>
<text class="tl" x="776.2" y="368.4">275</text>
<path class="ax" style="stroke-width:1.3" d="M244.7 456.5H835.8"/>
<path class="tk" d="M245.5 456.5V449.0M392.9 456.5V449.0M540.2 456.5V449.0M687.6 456.5V449.0M835.0 456.5V449.0"/>
<text class="tl" x="245.5" y="478.3">295</text>
<text class="tl" x="392.9" y="478.3">290</text>
<text class="tl" x="540.2" y="478.3">285</text>
<text class="tl" x="687.6" y="478.3">280</text>
<text class="tl" x="835.0" y="478.3">275</text>
<path class="ax" style="stroke-width:1.3" d="M297.7 537.2H888.8"/>
<path class="tk" d="M298.5 537.2V529.7M445.9 537.2V529.7M593.2 537.2V529.7M740.6 537.2V529.7M888.0 537.2V529.7"/>
<text class="tl" x="298.5" y="559.0">295</text>
<text class="tl" x="445.9" y="559.0">290</text>
<text class="tl" x="593.2" y="559.0">285</text>
<text class="tl" x="740.6" y="559.0">280</text>
<text class="tl" x="888.0" y="559.0">275</text>
<path class="ax" style="stroke-width:1.3" d="M350.0 632.3H941.1"/>
<path class="tk" d="M350.8 632.3V624.8M498.2 632.3V624.8M645.5 632.3V624.8M792.9 632.3V624.8M940.3 632.3V624.8"/>
<text class="tl" x="350.8" y="654.1">295</text>
<text class="tl" x="498.2" y="654.1">290</text>
<text class="tl" x="645.5" y="654.1">285</text>
<text class="tl" x="792.9" y="654.1">280</text>
<text class="tl" x="940.3" y="654.1">275</text>
<path class="ax" style="stroke-width:1.3" d="M415.2 738.4H1006.3"/>
<path class="tk" d="M416.0 738.4V730.9M563.4 738.4V730.9M710.8 738.4V730.9M858.1 738.4V730.9M1005.5 738.4V730.9"/>
<text class="tl" x="416.0" y="760.2">295</text>
<text class="tl" x="563.4" y="760.2">290</text>
<text class="tl" x="710.8" y="760.2">285</text>
<text class="tl" x="858.1" y="760.2">280</text>
<text class="tl" x="1005.5" y="760.2">275</text>
<path class="ax" style="stroke-width:2" d="M186.7 10.5V347.5"/>
<path class="tk" d="M186.7 346.6H193.7M186.7 322.7H191.0M186.7 298.7H193.7M186.7 274.8H191.0M186.7 250.8H193.7M186.7 226.9H191.0M186.7 202.9H193.7M186.7 179.0H191.0M186.7 155.0H193.7M186.7 131.1H191.0M186.7 107.1H193.7M186.7 83.2H191.0M186.7 59.2H193.7M186.7 35.2H191.0M186.7 11.3H193.7"/>
<text class="yl" x="178.5" y="351.6">0</text>
<text class="yl" x="178.5" y="303.7">10000</text>
<text class="yl" x="178.5" y="255.8">20000</text>
<text class="yl" x="178.5" y="207.9">30000</text>
<text class="yl" x="178.5" y="160.0">40000</text>
<text class="yl" x="178.5" y="112.1">50000</text>
<text class="yl" x="178.5" y="64.2">60000</text>
<text class="yl" x="178.5" y="16.3">70000</text>
<path d="M186.5 350L415 743" stroke="#000" stroke-width="2.2"/>
<text class="lb" x="3.5" y="359.2" textLength="161.5" lengthAdjust="spacingAndGlyphs">Mn/50Ti-N-WACF</text>
<text class="lb" x="48.8" y="470.8" textLength="173.9" lengthAdjust="spacingAndGlyphs">Mn/100Ti-N-WACF</text>
<text class="lb" x="102.2" y="558.6" textLength="173.1" lengthAdjust="spacingAndGlyphs">Mn/300Ti-N-WACF</text>
<text class="lb" x="162.4" y="658.8" textLength="172.7" lengthAdjust="spacingAndGlyphs">Mn/600Ti-N-WACF</text>
<text class="lb" x="306.5" y="753.7" textLength="82.7" lengthAdjust="spacingAndGlyphs">Ti-WACF</text>
<text class="cp" x="396.9" y="106.8">Cp1</text>
<path class="ld" d="M435.5 114.0L488.5 190.6"/>
<text class="cp" x="365.6" y="191.7">Cp2</text>
<path class="ld" d="M383.8 188.8L446.3 297.9"/>
<text class="cp" x="326.0" y="239.3">Cp3</text>
<path class="ld" d="M352.8 246.7L423.6 323.1"/>
<text class="cp" x="285.0" y="249.8">Cp4</text>
<path class="ld" d="M307.2 257.2L364.3 318.2"/>
<text class="cp" x="224.4" y="258.9">Cp5</text>
<path class="ld" d="M254.4 268.6L305.2 324.8"/>
<text class="ti" transform="translate(105.4,226.7) rotate(-90)" textLength="133.8" lengthAdjust="spacingAndGlyphs">Intensity /cps</text>
<text class="ti" x="554.5" y="795.6" textLength="194.5" lengthAdjust="spacingAndGlyphs">Binding energy /eV</text>
</svg></body></html>
